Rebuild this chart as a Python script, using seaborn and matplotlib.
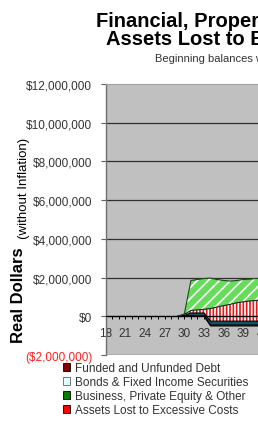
import matplotlib
matplotlib.use("Agg")
import matplotlib.pyplot as plt
from matplotlib.patches import Patch
import numpy as np
import pandas as pd
import seaborn as sns

# ---------------- data (dollars) ----------------
ages = list(range(18, 45))
zeros12 = [0] * 12
debt = zeros12 + [0, 0, 0, 0, -500000, -500000, -500000, -500000, -500000, -500000,
                  -500000, -500000, -500000, -500000, -500000]
business = zeros12 + [10000, 30000, 30000, 30000, 50000, 50000, 50000, 50000, 50000,
                      50000, 50000, 50000, 50000, 50000, 50000]
cash = zeros12 + [40000, 140000, 140000, 140000, 200000, 200000, 200000, 200000, 200000,
                  200000, 200000, 200000, 200000, 200000, 200000]
lost_costs = zeros12 + [50000, 130000, 160000, 190000, 650000, 730000, 800000, 870000,
                        950000, 1000000, 1040000, 1070000, 1100000, 1130000, 1150000]
stocks = zeros12 + [20000, 1550000, 1570000, 1590000, 1570000, 1420000, 1300000, 1200000,
                    1150000, 1150000, 1130000, 1130000, 1120000, 1120000, 1100000]

legend_labels = ["Funded and Unfunded Debt", "Bonds & Fixed Income Securities",
                 "Business, Private Equity & Other", "Assets Lost to Excessive Costs"]
ytick_values = [-2000000, 0, 2000000, 4000000, 6000000, 8000000, 10000000, 12000000]
xtick_label_ages = [18, 21, 24, 27, 30, 33, 36, 39, 42]

# ---------------- style ----------------
sns.set_theme(style="white")
plt.rcParams['font.family'] = ['Liberation Sans', 'DejaVu Sans']
plt.rcParams['hatch.linewidth'] = 1.2

W, H = 258, 435
fig = plt.figure(figsize=(W / 100, H / 100), dpi=100)
fig.patch.set_facecolor("white")


def fx(px):
    return px / W


def fy(py):
    return 1 - py / H


x0, x1 = 18, 44
px_per_year = 6.57
ax_left, ax_top, ax_bot = 105.5, 85, 356
ax_w = (x1 - x0) * px_per_year
ax = fig.add_axes([fx(ax_left), fy(ax_bot), ax_w / W, (ax_bot - ax_top) / H])
ax.set_facecolor("#C0C0C0")

df = pd.DataFrame({"age": ages, "debt": debt, "business": business, "cash": cash,
                   "lost": lost_costs, "stocks": stocks})
b0 = df["debt"].values
b1 = b0 + df["business"].values
b2 = b1 + df["cash"].values
b3 = b2 + df["lost"].values
b4 = b3 + df["stocks"].values
a = df["age"].values

# gridlines
for v in ytick_values:
    if v not in (0, 12000000):
        ax.axhline(v, color="#303030", lw=0.9, zorder=1)

ax.fill_between(a, b0, b1, facecolor="#008000", edgecolor="none", lw=0, zorder=2)
ax.fill_between(a, b1, b2, facecolor="#0B5563", edgecolor="none", lw=0, zorder=2)
ax.fill_between(a, b2, b3, facecolor="#E01818", edgecolor="white", lw=0,
                hatch="|||||", zorder=2)
ax.fill_between(a, b3, b4, facecolor="#66DD5A", edgecolor="white", lw=0,
                hatch="///", zorder=2)

mask = a >= 29
for arr, col in [(b0, "black"), (b1, "black"), (b2, "black"), (b3, "#202020"),
                 (b4, "#1A4A1A")]:
    sns.lineplot(x=a[mask], y=arr[mask], ax=ax, color=col, lw=0.8, zorder=3,
                 legend=False, estimator=None)

ax.set_xlim(x0, x1)
ax.set_ylim(-2000000, 12000000)

# y axis
ax.set_yticks(ytick_values)
ylabels = []
for v in ytick_values:
    if v < 0:
        ylabels.append("(${:,.0f})".format(-v))
    else:
        ylabels.append("${:,.0f}".format(v))
ax.set_yticklabels(ylabels)
for t, v in zip(ax.get_yticklabels(), ytick_values):
    t.set_color("#FF2020" if v < 0 else "#333333")
ax.tick_params(axis="y", direction="out", length=3.5, width=0.8, color="#606060",
               pad=6, labelsize=8.5, left=True)

# x axis crossing at zero
ax.spines["bottom"].set_position(("data", 0))
ax.spines["bottom"].set_color("black")
ax.spines["bottom"].set_linewidth(1.0)
ax.spines["bottom"].set_zorder(4)
ax.spines["left"].set_color("#707070")
ax.spines["left"].set_linewidth(1.0)
ax.spines["top"].set_color("#A0A0A0")
ax.spines["top"].set_linewidth(0.8)
ax.spines["right"].set_visible(False)
xt = list(range(x0, x1 + 1))
ax.set_xticks(xt)
ax.set_xticklabels([str(v) if v in xtick_label_ages else "" for v in xt])
ax.tick_params(axis="x", direction="out", length=2.5, width=0.7, color="black",
               pad=5.5, labelsize=8.5, labelcolor="#333333", bottom=True)
ax.set_xlabel("")
ax.set_ylabel("")

# y-axis label
fig.text(fx(19), fy(295), "Real Dollars", rotation=90, ha="center", va="center",
         fontsize=12, fontweight="bold", color="black")
fig.text(fx(24), fy(188), "(without Inflation)", rotation=90, ha="center",
         va="center", fontsize=9.5, color="black")

# titles
fig.text(fx(96), fy(27), "Financial, Property & Business", ha="left", va="baseline",
         fontsize=14.5, fontweight="bold", color="black")
fig.text(fx(106), fy(45), "Assets Lost to Excessive Costs", ha="left", va="baseline",
         fontsize=14.5, fontweight="bold", color="black")
fig.text(fx(155), fy(62), "Beginning balances with no inflation", ha="left",
         va="baseline", fontsize=8, color="#333333")

# legend
handles = [Patch(facecolor="#800000", edgecolor="black", lw=0.6),
           Patch(facecolor="#E0FFFF", edgecolor="#606060", lw=0.6),
           Patch(facecolor="#008000", edgecolor="black", lw=0.6),
           Patch(facecolor="#FF0000", edgecolor="black", lw=0.6)]
fig.legend(handles, legend_labels, loc="upper left",
           bbox_to_anchor=(fx(63), fy(363)), frameon=False, fontsize=8.5,
           handlelength=0.6, handleheight=0.6, handletextpad=0.45,
           labelspacing=0.18, borderaxespad=0, borderpad=0,
           labelcolor="#333333")

fig.savefig("out.png", dpi=100)
